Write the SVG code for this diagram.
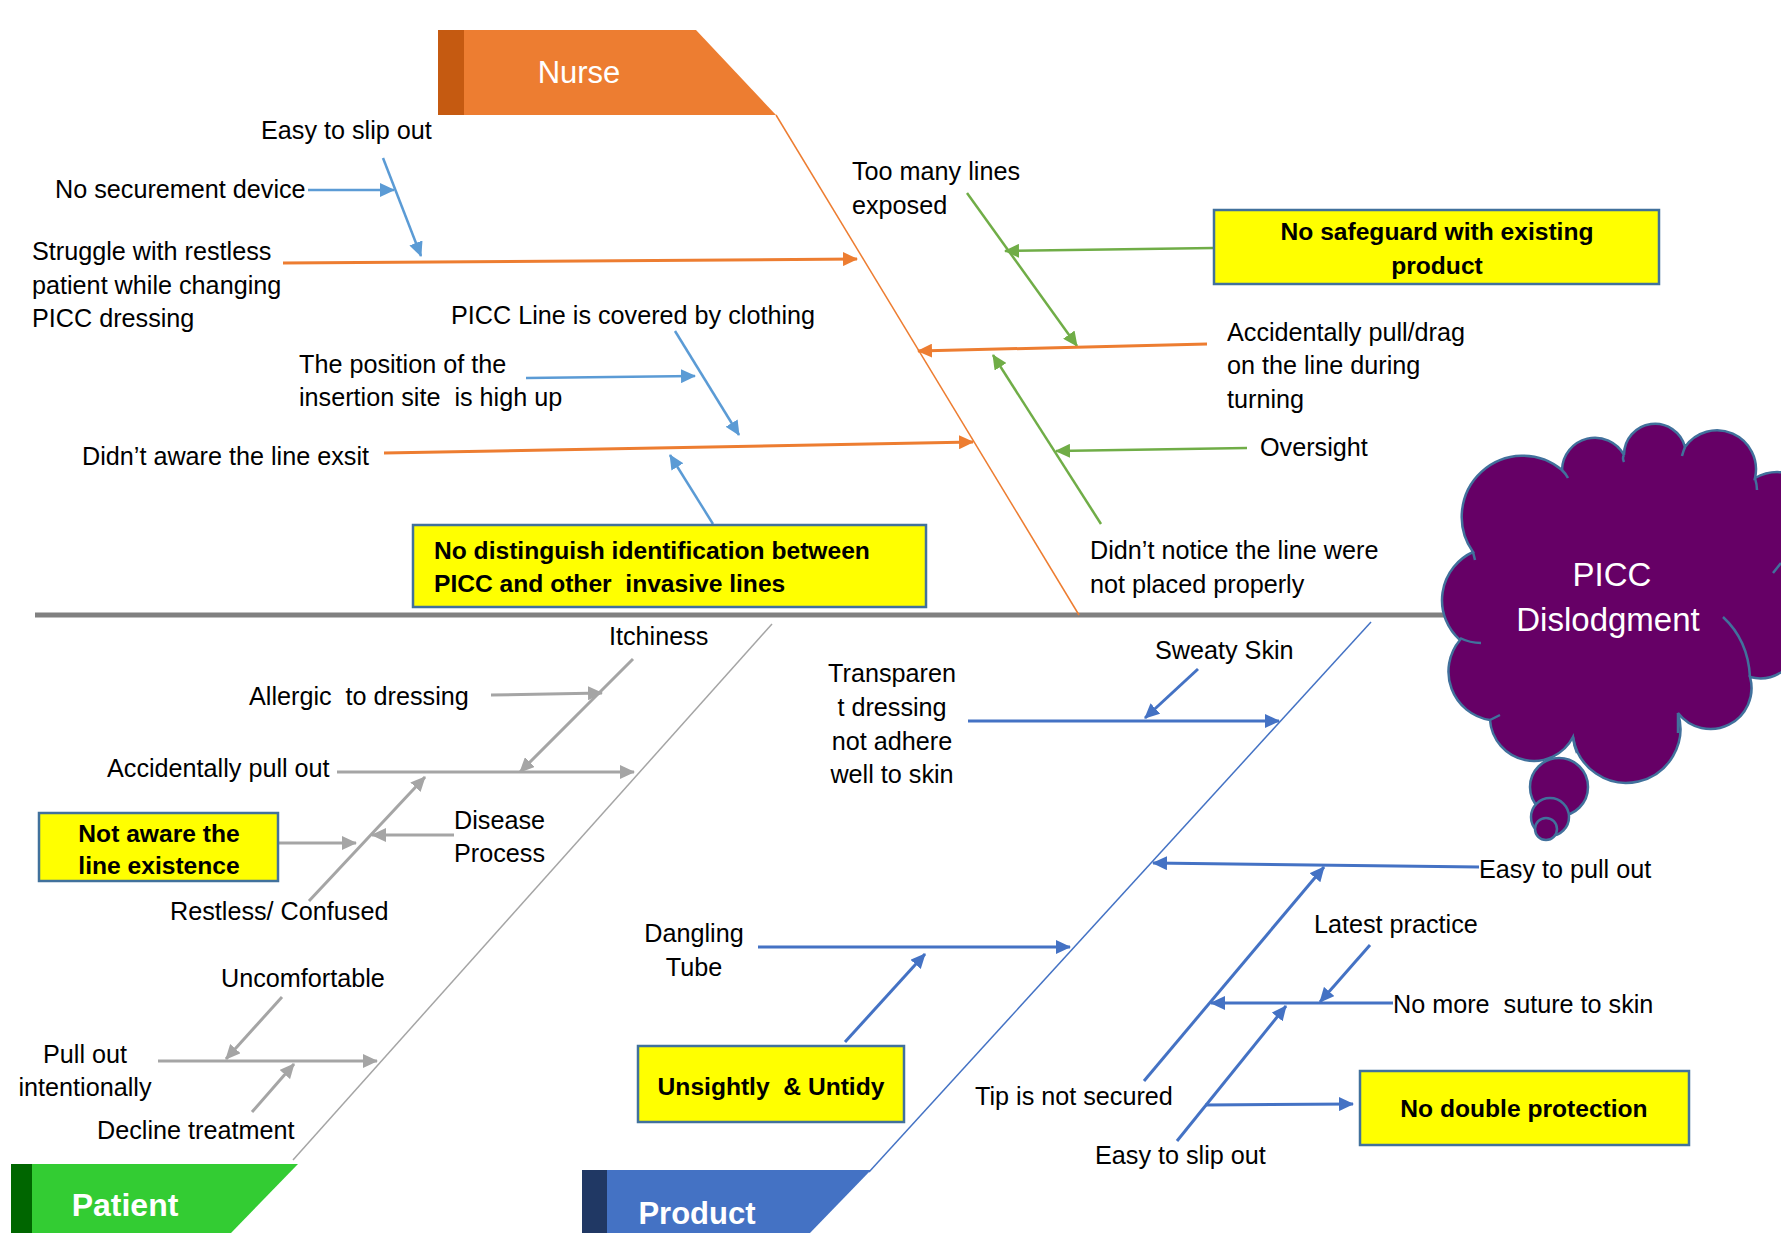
<svg xmlns="http://www.w3.org/2000/svg" width="1781" height="1233" viewBox="0 0 1781 1233">
<style>
text{font-family:"Liberation Sans",Arial,sans-serif;white-space:pre}
.t{font-size:25.2px;fill:#000}
.b{font-size:24.6px;font-weight:bold;fill:#000}
.c{text-anchor:middle}
.box{fill:#FFFF00;stroke:#41719C;stroke-width:2.5}
.or{stroke:#ED7D31;stroke-width:3;fill:none;marker-end:url(#mOr)}
.lb{stroke:#5B9BD5;stroke-width:2.5;fill:none;marker-end:url(#mLb)}
.gr{stroke:#70AD47;stroke-width:2.5;fill:none;marker-end:url(#mGr)}
.gy{stroke:#A5A5A5;stroke-width:3;fill:none;marker-end:url(#mGy)}
.bl{stroke:#4472C4;stroke-width:3;fill:none;marker-end:url(#mBl)}
.cl{fill:#660066;stroke:#41719C;stroke-width:2.5}
</style>
<defs>
<marker id="mOr" markerUnits="userSpaceOnUse" markerWidth="16" markerHeight="14" refX="14" refY="7" orient="auto"><path d="M0,0 L15,7 L0,14 z" fill="#ED7D31"/></marker>
<marker id="mLb" markerUnits="userSpaceOnUse" markerWidth="16" markerHeight="14" refX="14" refY="7" orient="auto"><path d="M0,0 L15,7 L0,14 z" fill="#5B9BD5"/></marker>
<marker id="mGr" markerUnits="userSpaceOnUse" markerWidth="16" markerHeight="14" refX="14" refY="7" orient="auto"><path d="M0,0 L15,7 L0,14 z" fill="#70AD47"/></marker>
<marker id="mGy" markerUnits="userSpaceOnUse" markerWidth="16" markerHeight="14" refX="14" refY="7" orient="auto"><path d="M0,0 L15,7 L0,14 z" fill="#A5A5A5"/></marker>
<marker id="mBl" markerUnits="userSpaceOnUse" markerWidth="16" markerHeight="14" refX="14" refY="7" orient="auto"><path d="M0,0 L15,7 L0,14 z" fill="#4472C4"/></marker>
</defs>
<rect width="1781" height="1233" fill="#fff"/>

<g id="bones">
<line x1="35" y1="615" x2="1460" y2="615" stroke="#808080" stroke-width="5"/>
<line x1="776" y1="115" x2="1079" y2="615" stroke="#ED7D31" stroke-width="1.5"/>
<line x1="293" y1="1160" x2="772" y2="624" stroke="#A5A5A5" stroke-width="1.5"/>
<line x1="869" y1="1172" x2="1371" y2="622" stroke="#4472C4" stroke-width="1.5"/>
</g>

<g id="nurse">
<polygon points="464,30 696,30 776,115 464,115" fill="#ED7D31"/>
<rect x="438" y="30" width="26" height="85" fill="#C55A11"/>
<text x="579" y="83" class="c" style="font-size:31px;fill:#fff">Nurse</text>
</g>
<g id="patient">
<polygon points="32,1164 298,1164 231,1233 32,1233" fill="#33CC33"/>
<rect x="11" y="1164" width="21" height="69" fill="#006600"/>
<text x="125" y="1216" class="c" style="font-size:32px;font-weight:bold;fill:#fff">Patient</text>
</g>
<g id="product">
<polygon points="607,1170 871,1170 810,1233 607,1233" fill="#4472C4"/>
<rect x="582" y="1170" width="25" height="63" fill="#203864"/>
<text x="697" y="1224" class="c" style="font-size:31px;font-weight:bold;fill:#fff">Product</text>
</g>

<g id="connectors">
<line class="lb" x1="308" y1="190" x2="394" y2="190"/>
<line class="lb" x1="383" y1="158" x2="421" y2="256"/>
<line class="or" x1="283" y1="263" x2="857" y2="259"/>
<line class="lb" x1="526" y1="378" x2="695" y2="376"/>
<line class="lb" x1="675" y1="331" x2="739" y2="435"/>
<line class="or" x1="384" y1="453" x2="973" y2="442"/>
<line class="lb" x1="713" y1="524" x2="670" y2="455"/>
<line class="gr" x1="967" y1="193" x2="1077" y2="346"/>
<line class="gr" x1="1214" y1="248" x2="1005" y2="251"/>
<line class="or" x1="1207" y1="344" x2="918" y2="351"/>
<line class="gr" x1="1101" y1="524" x2="993" y2="355"/>
<line class="gr" x1="1247" y1="448" x2="1056" y2="451"/>
<line class="gy" x1="491" y1="695" x2="602" y2="693"/>
<line class="gy" x1="633" y1="659" x2="520" y2="772"/>
<line class="gy" x1="337" y1="772" x2="634" y2="772"/>
<line class="gy" x1="309" y1="901" x2="425" y2="777"/>
<line class="gy" x1="454" y1="835" x2="372" y2="835"/>
<line class="gy" x1="279" y1="843" x2="356" y2="843"/>
<line class="gy" x1="282" y1="997" x2="226" y2="1059"/>
<line class="gy" x1="158" y1="1061" x2="377" y2="1061"/>
<line class="gy" x1="252" y1="1112" x2="294" y2="1064"/>
<line class="bl" x1="968" y1="721" x2="1279" y2="721"/>
<line class="bl" x1="1198" y1="669" x2="1145" y2="718"/>
<line class="bl" x1="1479" y1="867" x2="1153" y2="863"/>
<line class="bl" x1="1144" y1="1081" x2="1324" y2="867"/>
<line class="bl" x1="1370" y1="945" x2="1320" y2="1002"/>
<line class="bl" x1="1393" y1="1003" x2="1211" y2="1003"/>
<line class="bl" x1="1177" y1="1141" x2="1286" y2="1006"/>
<line class="bl" x1="1205" y1="1105" x2="1353" y2="1104"/>
<line class="bl" x1="758" y1="947" x2="1070" y2="947"/>
<line class="bl" x1="845" y1="1042" x2="925" y2="954"/>
</g>

<g id="nurse-causes">
<text class="t" x="261" y="139">Easy to slip out</text>
<text class="t" x="55" y="198">No securement device</text>
<text class="t" x="32" y="260">Struggle with restless</text>
<text class="t" x="32" y="294">patient while changing</text>
<text class="t" x="32" y="327">PICC dressing</text>
<text class="t" x="451" y="324">PICC Line is covered by clothing</text>
<text class="t" x="299" y="373">The position of the</text>
<text class="t" x="299" y="406">insertion site  is high up</text>
<text class="t" x="82" y="465">Didn’t aware the line exsit</text>
<text class="t" x="852" y="180">Too many lines</text>
<text class="t" x="852" y="214">exposed</text>
<text class="t" x="1227" y="341">Accidentally pull/drag</text>
<text class="t" x="1227" y="374">on the line during</text>
<text class="t" x="1227" y="408">turning</text>
<text class="t" x="1260" y="456">Oversight</text>
<text class="t" x="1090" y="559">Didn’t notice the line were</text>
<text class="t" x="1090" y="593">not placed properly</text>
</g>
<g id="box-distinguish">
<rect class="box" x="413" y="525" width="513" height="82"/>
<text class="b" x="434" y="559">No distinguish identification between</text>
<text class="b" x="434" y="592">PICC and other  invasive lines</text>
</g>
<g id="box-safeguard">
<rect class="box" x="1214" y="210" width="445" height="74"/>
<text class="b c" x="1437" y="240">No safeguard with existing</text>
<text class="b c" x="1437" y="274">product</text>
</g>

<g id="patient-causes">
<text class="t" x="609" y="645">Itchiness</text>
<text class="t" x="249" y="705">Allergic  to dressing</text>
<text class="t" x="107" y="777">Accidentally pull out</text>
<text class="t" x="454" y="829">Disease</text>
<text class="t" x="454" y="862">Process</text>
<text class="t" x="170" y="920">Restless/ Confused</text>
<text class="t" x="221" y="987">Uncomfortable</text>
<text class="t c" x="85" y="1063">Pull out</text>
<text class="t c" x="85" y="1096">intentionally</text>
<text class="t" x="97" y="1139">Decline treatment</text>
</g>
<g id="box-notaware">
<rect class="box" x="39" y="813" width="239" height="68"/>
<text class="b c" x="159" y="842">Not aware the</text>
<text class="b c" x="159" y="874">line existence</text>
</g>

<g id="product-causes">
<text class="t c" x="892" y="682">Transparen</text>
<text class="t c" x="892" y="716">t dressing</text>
<text class="t c" x="892" y="750">not adhere</text>
<text class="t c" x="892" y="783">well to skin</text>
<text class="t" x="1155" y="659">Sweaty Skin</text>
<text class="t" x="1479" y="878">Easy to pull out</text>
<text class="t" x="1314" y="933">Latest practice</text>
<text class="t" x="1393" y="1013">No more  suture to skin</text>
<text class="t" x="975" y="1105">Tip is not secured</text>
<text class="t" x="1095" y="1164">Easy to slip out</text>
<text class="t c" x="694" y="942">Dangling</text>
<text class="t c" x="694" y="976">Tube</text>
</g>
<g id="box-unsightly">
<rect class="box" x="638" y="1046" width="266" height="76"/>
<text class="b c" x="771" y="1095">Unsightly  &amp; Untidy</text>
</g>
<g id="box-double">
<rect class="box" x="1360" y="1071" width="329" height="74"/>
<text class="b c" x="1524" y="1117">No double protection</text>
</g>

<g id="effect">
<path class="cl" d="M1473,552 A61,61 0 0 1 1562,470 A33,33 0 0 1 1624,455 A31,31 0 0 1 1685,447 A39,39 0 0 1 1755,478 A45,45 0 0 1 1800,560 L1800,640 A40,40 0 0 1 1750,677 A41,41 0 0 1 1678,713 A54,54 0 1 1 1573,737 A44,44 0 0 1 1490,720 A49,49 0 0 1 1460,640 A53,53 0 0 1 1473,552 Z"/>
<path d="M1723,617 Q1748,640 1750,677 M1773,573 L1781,563 M1460,638 Q1470,643 1481,643 M1573,737 Q1574,746 1577,753 M1678,713 L1678,733 M1562,470 Q1566,474 1568,478 M1624,455 Q1622,458 1624,462 M1685,447 Q1683,452 1682,456 M1755,478 Q1757,485 1757,490 M1473,552 L1475,560 M1490,720 Q1496,717 1500,715" fill="none" stroke="#41719C" stroke-width="2.5"/>
<circle class="cl" cx="1559" cy="787" r="29"/>
<circle class="cl" cx="1550" cy="817" r="19"/>
<circle class="cl" cx="1546" cy="829" r="11"/>
<text x="1612" y="586" class="c" style="font-size:33px;fill:#fff">PICC</text>
<text x="1608" y="631" class="c" style="font-size:33px;fill:#fff">Dislodgment</text>
</g>
</svg>
